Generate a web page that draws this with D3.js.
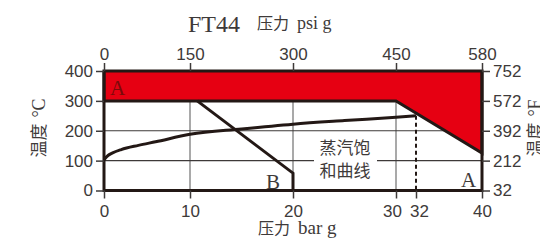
<!DOCTYPE html>
<meta charset="utf-8" />
<style>
  body { margin: 0; background: #fff; }
  .tick text { font: 17px "Liberation Sans", Arial, sans-serif; fill: #3e3a39; }
  .tick line { stroke: #3e3a39; stroke-width: 1.5; }
  .serif { font-family: "Liberation Serif", "Times New Roman", serif; }
  .cjk { font-family: "Noto Sans CJK SC", sans-serif; }
</style>
<svg width="540" height="240"></svg>
<script src="https://d3js.org/d3.v7.min.js"></script>
<script>
  // axis ticks
  var barTicks = [0, 10, 20, 30, 32, 40];
  var psiTicks = [0, 150, 300, 450, 580];
  var cTicks = [0, 100, 200, 300, 400];
  var fTicks = [32, 212, 392, 572, 752];
  var gridBar = [10, 20, 30];
  var gridC = [100, 200, 300];

  // saturated steam curve (bar g, degC)
  var satBar = [0, 0.5, 1, 2, 4, 6, 10, 15, 20, 25, 30, 32];
  var satTemp = [103, 118, 126, 137, 151, 163, 188, 206, 222, 234, 245, 250];

  // region A (red) and limit line B
  var regionBar = [0, 40, 40, 30, 0];
  var regionTemp = [400, 400, 125, 300, 300];
  var lineBBar = [10.7, 20, 20];
  var lineBTemp = [300, 58, 0];

  var dashBar = 32;

  var svg = d3.select("svg");
  var black = "#231815", red = "#e60012";

  // the printed grid is not evenly spaced, so a piecewise scale
  var x = d3.scaleLinear().domain([0, 10, 20, 30, 32, 40]).range([104, 190, 293, 396, 416, 482]);
  var xPsi = d3.scaleLinear().domain([0, 150, 300, 450, 580]).range([104, 190, 293, 396, 482]);
  var y = d3.scaleLinear().domain([0, 400]).range([190.5, 71]);
  var yF = d3.scaleLinear().domain([32, 752]).range([190.5, 71]);

  var line = d3.line().x(d => x(d[0])).y(d => y(d[1]));

  // grid
  svg.append("g").selectAll("line").data(gridBar).join("line")
    .attr("x1", d => x(d)).attr("x2", d => x(d))
    .attr("y1", y(400)).attr("y2", y(0))
    .attr("stroke", "#8c8c8c").attr("stroke-width", 1.5);
  svg.append("g").selectAll("line").data(gridC).join("line")
    .attr("x1", x(0)).attr("x2", x(40))
    .attr("y1", d => y(d)).attr("y2", d => y(d))
    .attr("stroke", "#3e3a39").attr("stroke-width", 1.2);

  // region A
  var region = regionBar.map((b, i) => [b, regionTemp[i]]);
  svg.append("path").attr("d", line(region) + "Z")
    .attr("fill", red).attr("stroke", black).attr("stroke-width", 3)
    .attr("stroke-linejoin", "miter");

  // saturation curve
  svg.append("path")
    .attr("d", d3.line().x(d => x(d[0])).y(d => y(d[1])).curve(d3.curveMonotoneX)(satBar.map((b, i) => [b, satTemp[i]])))
    .attr("fill", "none").attr("stroke", black).attr("stroke-width", 3);

  // line B
  svg.append("path").attr("d", line(lineBBar.map((b, i) => [b, lineBTemp[i]])))
    .attr("fill", "none").attr("stroke", black).attr("stroke-width", 3);

  // dashed 32 bar line
  svg.append("line")
    .attr("x1", x(dashBar)).attr("x2", x(dashBar))
    .attr("y1", y(satTemp[satTemp.length - 1])).attr("y2", y(0))
    .attr("stroke", black).attr("stroke-width", 2).attr("stroke-dasharray", "4,3");

  // frame
  svg.append("path")
    .attr("d", line([[0, 400], [0, 0], [40, 0], [40, 400]]))
    .attr("fill", "none").attr("stroke", black).attr("stroke-width", 3);

  // axes
  function clean(g) { g.select(".domain").remove(); }
  svg.append("g").attr("transform", "translate(0," + y(400) + ")")
    .call(d3.axisTop(xPsi).tickValues(psiTicks).tickSize(8).tickPadding(3)).call(clean);
  var xAxisG = svg.append("g").attr("transform", "translate(0," + y(0) + ")")
    .call(d3.axisBottom(x).tickValues(barTicks).tickSize(8).tickPadding(6)).call(clean);
  // 30 and 32 sit close together, nudge them apart
  xAxisG.selectAll(".tick text").attr("dx", d => d === 30 ? -4 : d === 32 ? 3 : 0);
  svg.append("g").attr("transform", "translate(" + x(0) + ",0)")
    .call(d3.axisLeft(y).tickValues(cTicks).tickSize(8).tickPadding(3)).call(clean);
  svg.append("g").attr("transform", "translate(" + x(40) + ",0)")
    .call(d3.axisRight(yF).tickValues(fTicks).tickSize(8).tickPadding(3)).call(clean);
  svg.selectAll(".tick text").attr("font-family", null).attr("font-size", null);

  // curve label with white backing
  svg.append("rect").attr("x", 314).attr("y", 138).attr("width", 63).attr("height", 44).attr("fill", "#fff");
  svg.append("text").attr("class", "cjk").attr("x", 345).attr("y", 154)
    .attr("text-anchor", "middle").attr("font-size", 17).attr("fill", "#3e3a39").text("蒸汽饱");
  svg.append("text").attr("class", "cjk").attr("x", 345).attr("y", 177)
    .attr("text-anchor", "middle").attr("font-size", 17).attr("fill", "#3e3a39").text("和曲线");

  // region letters
  svg.append("text").attr("class", "serif").attr("x", 110).attr("y", 95)
    .attr("font-size", 21).attr("fill", "#7a0a0a").text("A");
  svg.append("text").attr("class", "serif").attr("x", 266).attr("y", 189)
    .attr("font-size", 21).attr("fill", "#3e3a39").text("B");
  svg.append("text").attr("class", "serif").attr("x", 461).attr("y", 187)
    .attr("font-size", 21).attr("fill", "#3e3a39").text("A");

  // titles
  svg.append("text").attr("class", "serif").attr("x", 188).attr("y", 32)
    .attr("font-size", 24).attr("fill", "#3e3a39").text("FT44");
  var topTitle = svg.append("text").attr("x", 257).attr("y", 29).attr("fill", "#3e3a39");
  topTitle.append("tspan").attr("class", "cjk").attr("font-size", 16).text("压力");
  topTitle.append("tspan").attr("class", "serif").attr("font-size", 18).attr("dx", 8).text("psi g");

  var botTitle = svg.append("text").attr("x", 258).attr("y", 234).attr("fill", "#3e3a39");
  botTitle.append("tspan").attr("class", "cjk").attr("font-size", 16).text("压力");
  botTitle.append("tspan").attr("class", "serif").attr("font-size", 19).attr("dx", 8).text("bar g");

  // rotated axis titles
  function yTitle(cx, cy, unit) {
    var t = svg.append("text").attr("transform", "translate(" + cx + "," + cy + ") rotate(-90)")
      .attr("text-anchor", "middle").attr("fill", "#3e3a39");
    t.append("tspan").attr("class", "cjk").attr("font-size", 17).text("温度");
    t.append("tspan").attr("class", "serif").attr("font-size", 18).attr("dx", 6).text(unit);
  }
  yTitle(45, 128, "°C");
  yTitle(541, 128, "°F");
</script>
